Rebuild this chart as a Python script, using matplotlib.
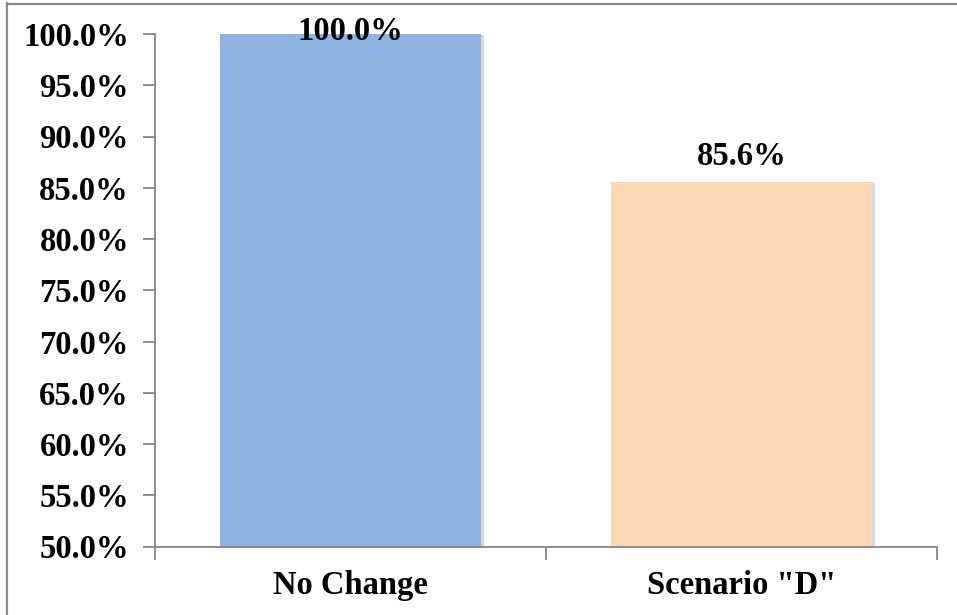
import matplotlib.pyplot as plt
from matplotlib.lines import Line2D
import matplotlib.patheffects as pe

categories = ["No Change", 'Scenario "D"']
values = [100.0, 85.6]
colors = ["#8EB4E3", "#FCD5B5"]
yticks = [50, 55, 60, 65, 70, 75, 80, 85, 90, 95, 100]

plt.rcParams['font.family'] = ['Liberation Serif', 'DejaVu Serif']
plt.rcParams['font.weight'] = 'bold'

W, H = 957, 615
fig = plt.figure(figsize=(W / 100, H / 100), dpi=100)
ax = fig.add_axes([155 / W, 1 - 546.5 / H, (937 - 155) / W, (546.5 - 34) / H])

x = list(range(len(categories)))
bars = ax.bar(x, values, width=0.667, color=colors, zorder=2,
              path_effects=[pe.SimplePatchShadow(offset=(2, -1), shadow_rgbFace='#b0b0b0', alpha=0.5),
                            pe.Normal()])

ax.set_xlim(-0.5, len(categories) - 0.5)
ax.set_ylim(50, 100)
ax.set_yticks(yticks)
ax.set_yticklabels([f"{v:.1f}%" for v in yticks])

spine_color = '#868686'
for side in ('top', 'right'):
    ax.spines[side].set_visible(False)
for side in ('left', 'bottom'):
    ax.spines[side].set_color(spine_color)
    ax.spines[side].set_linewidth(1.3)

ax.tick_params(axis='y', direction='out', length=9, width=1.3, color=spine_color,
               labelsize=23.5, pad=9.8)
# category labels at centres, tick marks at category boundaries
ax.set_xticks(x)
ax.set_xticklabels(categories)
ax.tick_params(axis='x', which='major', length=0, labelsize=23.5, pad=17)
ax.set_xticks([-0.5, 0.5, 1.5], minor=True)
ax.tick_params(axis='x', which='minor', direction='out', length=9, width=1.3, color=spine_color)

for xi, v in zip(x, values):
    ax.annotate(f"{v:.1f}%", (xi, v), xytext=(0, 7 if v < 99 else 1.5),
                textcoords='offset points', ha='center',
                va='bottom' if v < 99 else 'center',
                fontsize=23.5, fontweight='bold', zorder=3)

# outer frame lines
fig.add_artist(Line2D([7.5 / W, 7.5 / W], [0, 1 - 3 / H], transform=fig.transFigure,
                      color='#8a8a8a', lw=1.6))
fig.add_artist(Line2D([7.5 / W, 1], [1 - 3.5 / H, 1 - 3.5 / H], transform=fig.transFigure,
                      color='#8a8a8a', lw=1.6))

fig.savefig('out.png', dpi=100)
